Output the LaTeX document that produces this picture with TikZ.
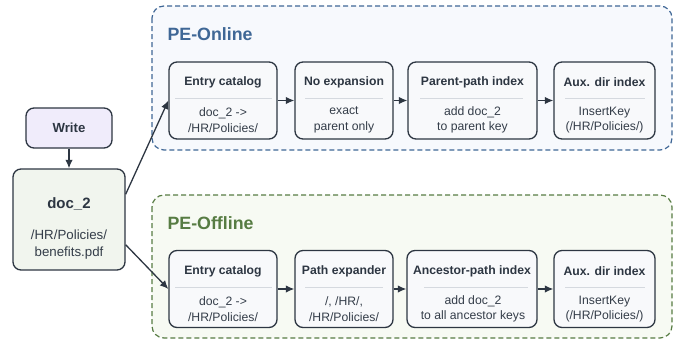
\documentclass[tikz,border=0pt]{standalone}
\usepackage{fontspec}
\setmainfont{Liberation Sans}
\usetikzlibrary{arrows.meta}
\definecolor{ink}{HTML}{2D3642}
\definecolor{bodyink}{HTML}{343D49}
\definecolor{boxfill}{HTML}{F8F9FB}
\definecolor{onfill}{HTML}{F7F9FD}
\definecolor{onblue}{HTML}{3F6796}
\definecolor{offfill}{HTML}{F7FAF3}
\definecolor{offgreen}{HTML}{577C43}
\definecolor{writefill}{HTML}{F0ECFB}
\definecolor{docfill}{HTML}{F1F5EE}
\definecolor{seprule}{HTML}{D5D9DF}
\begin{document}
\begin{tikzpicture}[x=1pt, y=-1pt,
    stage/.style={draw=ink, line width=1.3pt, rounded corners=8pt, fill=boxfill, minimum height=77pt},
    head/.style={font=\bfseries\fontsize{12.2}{14}\selectfont, text=ink},
    body/.style={font=\fontsize{12.2}{15.5}\selectfont, text=bodyink, align=center},
    sep/.style={draw=seprule, line width=0.8pt},
    flow/.style={draw=ink, line width=1.3pt, -{Latex[length=8.5pt,width=7.5pt]}},
    group/.style={line width=1.2pt, rounded corners=12pt, dash pattern=on 5pt off 3pt},
    grouptitle/.style={font=\bfseries\fontsize{17.8}{20}\selectfont, anchor=west}]
    \useasboundingbox (0,0) rectangle (681,343);

    \draw[group, draw=onblue, fill=onfill] (152,6) rectangle (672,150);
    \draw[group, draw=offgreen, fill=offfill] (152,195) rectangle (672,338);
    \node[grouptitle, text=onblue] (ontitle) at (164,34) {PE-Online};
    \node[grouptitle, text=offgreen] (offtitle) at (164,223) {PE-Offline};

    \node[stage, minimum width=86pt, minimum height=40pt, fill=writefill] (write) at (69,128) {};
    \node[head, font=\bfseries\fontsize{13.2}{15}\selectfont] (writet) at (69,128) {Write};
    \node[stage, minimum width=112pt, minimum height=101pt, fill=docfill] (doc) at (69,219.5) {};
    \node[head, font=\bfseries\fontsize{15}{17}\selectfont] (doct) at (69,204) {doc\_2};
    \node[body, font=\fontsize{13.3}{17}\selectfont] (docb) at (69,244.5) {/HR/Policies/\\benefits.pdf};

    \node[stage, minimum width=108pt] (on1) at (223,100.5) {};
    \node[head] (on1t) at (223,82) {Entry catalog};
    \draw[sep] (175,98) -- (272,98);
    \node[body] (on1b) at (223,120) {doc\_2 ->\\/HR/Policies/};

    \node[stage, minimum width=98pt] (on2) at (344,100.5) {};
    \node[head] (on2t) at (344,82) {No expansion};
    \draw[sep] (305,98) -- (383,98);
    \node[body] (on2b) at (344,120) {exact\\parent only};

    \node[stage, minimum width=129pt] (on3) at (472.5,100.5) {};
    \node[head] (on3t) at (472.5,82) {Parent-path index};
    \draw[sep] (420,98) -- (523,98);
    \node[body] (on3b) at (472.5,120) {add doc\_2\\to parent key};

    \node[stage, minimum width=101pt] (on4) at (604.5,100.5) {};
    \node[head] (on4t) at (604.5,82) {Aux. dir index};
    \draw[sep] (565,98) -- (645,98);
    \node[body] (on4b) at (604.5,120) {InsertKey\\(/HR/Policies/)};

    \node[stage, minimum width=108pt] (off1) at (223,289) {};
    \node[head] (off1t) at (223,271) {Entry catalog};
    \draw[sep] (175,287) -- (272,287);
    \node[body] (off1b) at (223,309) {doc\_2 ->\\/HR/Policies/};

    \node[stage, minimum width=98pt] (off2) at (344,289) {};
    \node[head] (off2t) at (344,271) {Path expander};
    \draw[sep] (305,287) -- (383,287);
    \node[body] (off2b) at (344,309) {/, /HR/,\\/HR/Policies/};

    \node[stage, minimum width=130pt] (off3) at (472,289) {};
    \node[head] (off3t) at (472,271) {Ancestor-path index};
    \draw[sep] (424,287) -- (528,287);
    \node[body] (off3b) at (473,309) {add doc\_2\\to all ancestor keys};

    \node[stage, minimum width=101pt] (off4) at (604.5,289) {};
    \node[head] (off4t) at (604.5,271) {Aux. dir index};
    \draw[sep] (565,287) -- (645,287);
    \node[body] (off4b) at (604.5,309) {InsertKey\\(/HR/Policies/)};

    \draw[flow] (write) -- (doc);
    \draw[flow] (doc.24) -- (on1.west);
    \draw[flow] (doc.-24) -- (off1.west);
    \draw[flow] (on1) -- (on2);
    \draw[flow] (on2) -- (on3);
    \draw[flow] (on3) -- (on4);
    \draw[flow] (off1) -- (off2);
    \draw[flow] (off2) -- (off3);
    \draw[flow] (off3) -- (off4);
\end{tikzpicture}
\end{document}
